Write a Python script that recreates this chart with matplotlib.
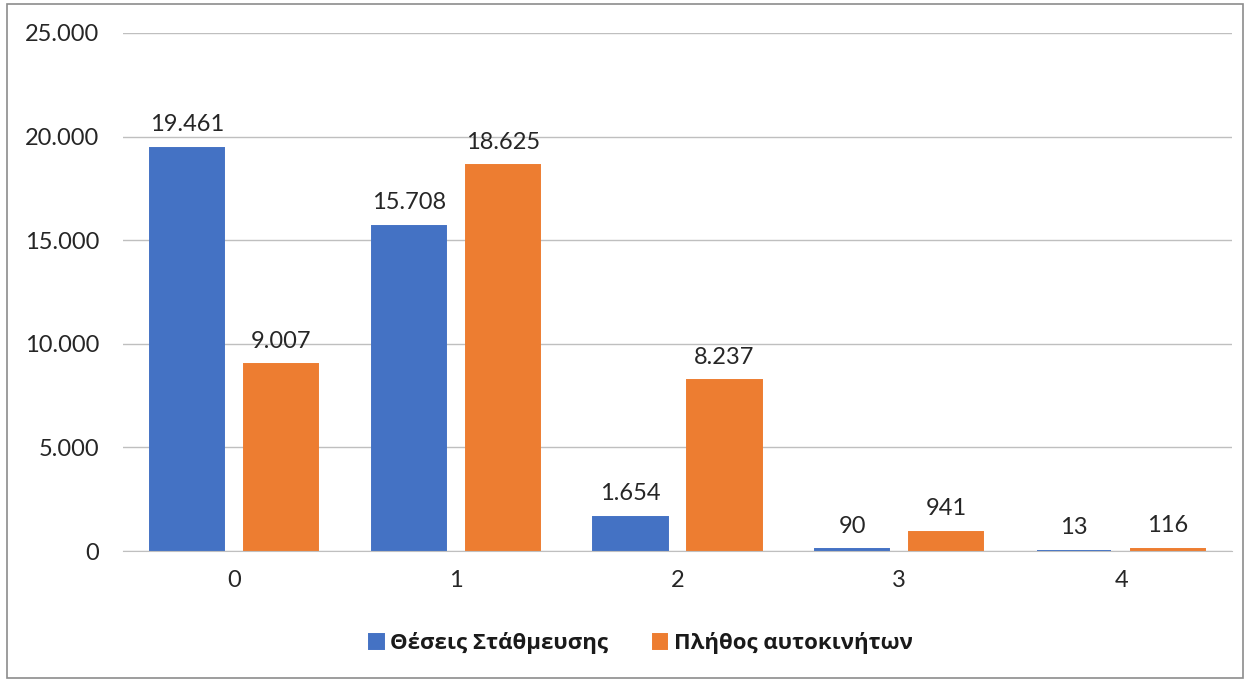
import matplotlib
matplotlib.use("Agg")
import matplotlib.pyplot as plt
from matplotlib.patches import Rectangle
import numpy as np

categories = ["0", "1", "2", "3", "4"]
parking_spots = [19461, 15708, 1654, 90, 13]
car_count = [9007, 18625, 8237, 941, 116]
series_names = ["Θέσεις Στάθμευσης", "Πλήθος αυτοκινήτων"]
yticks = [0, 5000, 10000, 15000, 20000, 25000]

BLUE = "#4472C4"
ORANGE = "#ED7D31"
TEXT = "#262626"
GRID = "#BFBFBF"

plt.rcParams["font.family"] = ["Lato", "DejaVu Sans"]

W, H = 1247, 681
fig = plt.figure(figsize=(W / 100, H / 100), dpi=100)
fig.patch.set_facecolor("white")

ax = fig.add_axes([123 / W, (H - 551) / H, (1232 - 123) / W, (551 - 33) / H])

def fmt(v):
    return f"{v:,}".replace(",", ".")

x = np.arange(len(categories))
bw = 0.334
gap = 0.09
off = (bw + gap) / 2
b1 = ax.bar(x - off, parking_spots, bw, color=BLUE, edgecolor=BLUE,
            linewidth=1.4, label=series_names[0], zorder=3)
b2 = ax.bar(x + off, car_count, bw, color=ORANGE, edgecolor=ORANGE,
            linewidth=1.4, label=series_names[1], zorder=3)

for bars, vals in ((b1, parking_spots), (b2, car_count)):
    for rect, v in zip(bars, vals):
        ax.annotate(fmt(v), (rect.get_x() + rect.get_width() / 2, v),
                    xytext=(0, 9), textcoords="offset points",
                    ha="center", va="bottom", fontsize=17, color=TEXT)

ax.set_xlim(-0.5, len(categories) - 0.5)
ax.set_ylim(0, 25000)
ax.set_yticks(yticks)
ax.set_yticklabels([fmt(v) for v in yticks])
ax.set_xticks(x)
ax.set_xticklabels(categories)
ax.tick_params(axis="both", length=0, labelsize=17, colors=TEXT)
ax.tick_params(axis="y", pad=17)
ax.tick_params(axis="x", pad=14)
ax.grid(axis="y", color=GRID, linewidth=1, zorder=0)
for side in ("left", "right", "top"):
    ax.spines[side].set_visible(False)
ax.spines["bottom"].set_color(GRID)
ax.spines["bottom"].set_zorder(4)

fig.legend(handles=[b1, b2], labels=series_names, loc="center",
           bbox_to_anchor=(0.514, (H - 643) / H), ncol=2, frameon=False,
           prop={"family": ["Open Sans", "DejaVu Sans"], "size": 16,
                 "weight": "bold"},
           handlelength=0.65, handleheight=0.65, handletextpad=0.3,
           columnspacing=2.0, labelcolor="#1A1A1A")

fig.add_artist(Rectangle((7 / W, 3 / H), (1243 - 7) / W, (677 - 3) / H,
                         transform=fig.transFigure, fill=False,
                         edgecolor="#8C8C8C", linewidth=1.2))

fig.savefig("out.png", dpi=100)
